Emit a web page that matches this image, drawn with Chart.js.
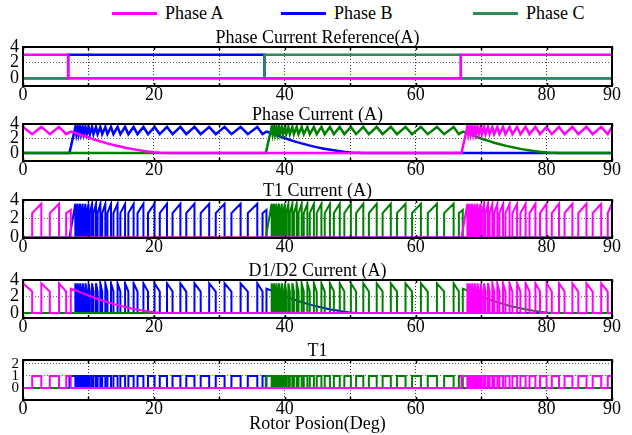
<!DOCTYPE html>
<html>
<head>
<meta charset="utf-8">
<script src="https://cdn.jsdelivr.net/npm/chart.js@4.4.1/dist/chart.umd.min.js"></script>
<style>
  body { margin: 0; background: #fff; }
  #wrap { position: relative; width: 632px; height: 435px; font-family: "Liberation Serif", "DejaVu Serif", serif; }
  .plot { position: absolute; left: 0; width: 632px; }
  .key { position: absolute; top: 4px; height: 18px; line-height: 18px; font-size: 18px; color: #000; white-space: nowrap; }
  .key i { position: absolute; left: 0; top: 8px; width: 45px; height: 3px; }
  .key span { margin-left: 53px; }
</style>
</head>
<body>
<div id="wrap">
  <div class="key" style="left:112px"><i style="background:#ff00ff"></i><span>Phase A</span></div>
  <div class="key" style="left:281px"><i style="background:#0000ff"></i><span>Phase B</span></div>
  <div class="key" style="left:473px"><i style="background:#2e8b57"></i><span>Phase C</span></div>

  <div class="plot" style="top:28px;height:80px"><canvas id="refPlot"></canvas></div>
  <div class="plot" style="top:105px;height:78px"><canvas id="curPlot"></canvas></div>
  <div class="plot" style="top:181px;height:79px"><canvas id="t1Plot"></canvas></div>
  <div class="plot" style="top:261px;height:79px"><canvas id="dPlot"></canvas></div>
  <div class="plot" style="top:341px;height:94px"><canvas id="gatePlot"></canvas></div>
</div>

<script>
var PINK = '#ff00ff', BLUE = '#0000ff', GREEN = '#008000', SEA = '#2e8b57';
var SERIF = '"Liberation Serif", "DejaVu Serif", serif';

// phase current reference, [deg, A]
var refA = [[0,3],[6.9,3],[6.9,0],[66.9,0],[66.9,3],[90,3]];
var refB = [[0,0],[6.9,0],[6.9,3],[36.9,3],[36.9,0],[90,0]];
var refC = [[0,0],[36.9,0],[36.9,3],[66.9,3],[66.9,0],[90,0]];

// hysteresis band of the chopped current
var chopHi = 3.6, chopLo = 2.6;

// chopping instants (deg), alternately at chopHi and chopLo
var aChop1 = [0, 1.4, 2.8, 4.1, 5.5, 6.6];
var aTail1 = [[7.3,2.95],[8,2.78],[9,2.45],[10,2.12],[11,1.82],[12,1.55],[13,1.3],[14,1.07],[15,0.86],
              [16,0.67],[17,0.5],[18,0.35],[19,0.22],[20,0.11],[21,0.04],[22,0],[67.0,0]];
var aChop2 = [67.9,68.05,68.25,68.4,68.62,68.78,69.02,69.19,69.45,69.63,69.92,70.12,70.45,70.67,71.05,71.3,
              71.72,72.0,72.48,72.8,73.35,73.72,74.35,74.78,75.5,76.0,76.8,77.4,78.3,79.0,80.0,80.8,81.9,
              82.75,83.95,84.85,86.1,87.05,88.35,89.35,90];

var bPre = [[0,0],[7.1,0]];
var bChop = [8.0,8.15,8.35,8.5,8.72,8.88,9.12,9.29,9.55,9.73,10.02,10.22,10.55,10.77,11.15,11.4,11.82,12.1,
             12.58,12.9,13.45,13.82,14.45,14.88,15.6,16.1,16.9,17.5,18.4,19.1,20.1,20.9,22.0,22.85,24.05,
             24.95,26.2,27.15,28.45,29.45,30.8,31.85,33.25,34.35,35.8,36.6];
var bTail = [[37.2,2.95],[38,2.72],[39,2.38],[40,2.05],[41,1.75],[42,1.47],[43,1.22],[44,0.99],[45,0.78],
             [46,0.6],[47,0.44],[48,0.3],[49,0.17],[50,0.07],[51,0.02],[52,0],[90,0]];

var cPre = [[0,0],[37.1,0]];
var cChop = [38.0,38.15,38.35,38.5,38.72,38.88,39.12,39.29,39.55,39.73,40.02,40.22,40.55,40.77,41.15,41.4,
             41.82,42.1,42.58,42.9,43.45,43.82,44.45,44.88,45.6,46.1,46.9,47.5,48.4,49.1,50.1,50.9,52.0,
             52.85,54.05,54.95,56.2,57.15,58.45,59.45,60.8,61.85,63.25,64.35,65.8,66.6];
var cTail = [[67.2,2.95],[68,2.7],[69,2.35],[70,2.0],[71,1.7],[72,1.42],[73,1.18],[74,0.95],[75,0.75],
             [76,0.57],[77,0.42],[78,0.28],[79,0.16],[80,0.07],[81,0.02],[82,0],[90,0]];

var xLabels = [0, 20, 40, 60, 80, 90];

function chop(angles) {
  return angles.map(function (x, i) { return [x, i % 2 ? chopLo : chopHi]; });
}

var phaseA = chop(aChop1).concat(aTail1, chop(aChop2));
var phaseB = bPre.concat(chop(bChop), bTail);
var phaseC = cPre.concat(chop(cChop), cTail);

// rising parts of the phase current -> T1 conducts, falling parts -> diodes
function pulses(v, rising, level) {
  var out = [[0, 0]], i = 0;
  function dir(k) {
    return rising ? v[k + 1][1] > v[k][1] : v[k + 1][1] < v[k][1];
  }
  while (i < v.length - 1) {
    if (dir(i)) {
      var j = i;
      while (j < v.length - 1 && dir(j)) j++;
      out.push([v[i][0], 0]);
      for (var k = i; k <= j; k++) out.push([v[k][0], level === undefined ? v[k][1] : level]);
      out.push([v[j][0], 0]);
      i = j;
    } else {
      i++;
    }
  }
  out.push([90, 0]);
  return out;
}

function pts(v) {
  return v.map(function (p) { return {x: p[0], y: p[1]}; });
}

var framePlugin = {
  id: 'frame',
  afterDatasetsDraw: function (chart) {
    var a = chart.chartArea, c = chart.ctx, xs = chart.scales.x;
    c.save();
    c.strokeStyle = '#000';
    c.lineWidth = 2;
    c.strokeRect(a.left, a.top, a.right - a.left, a.bottom - a.top);
    // short inward tick marks every 10 deg
    c.lineWidth = 1.5;
    c.beginPath();
    xs.ticks.forEach(function (t) {
      var px = Math.round(xs.getPixelForValue(t.value)) + 0.5;
      c.moveTo(px, a.top); c.lineTo(px, a.top + 3);
      c.moveTo(px, a.bottom); c.lineTo(px, a.bottom - 3);
    });
    c.stroke();
    c.restore();
  }
};

function makePlot(id, title, yMin, yMax, yTicks, sets, xTitle) {
  var ctx = document.getElementById(id).getContext('2d');
  return new Chart(ctx, {
    type: 'line',
    data: {
      datasets: sets.map(function (s) {
        return {label: s[0], data: pts(s[1]), borderColor: s[2], borderWidth: s[3],
                pointRadius: 0, tension: 0, fill: false};
      })
    },
    options: {
      animation: false,
      responsive: true,
      maintainAspectRatio: false,
      layout: {padding: {top: 1, left: 0, right: 20, bottom: 0}},
      plugins: {
        legend: {display: false},
        tooltip: {enabled: false},
        title: {display: true, text: title, color: '#000', fullSize: false, padding: 0,
                font: {family: SERIF, size: 18, weight: 'normal', lineHeight: 1}}
      },
      scales: {
        x: {
          type: 'linear', min: 0, max: 90,
          afterFit: function (s) { s.height = xTitle ? 35 : 22; },
          border: {display: false, dash: [1, 2]},
          grid: {color: '#333', lineWidth: 1, drawTicks: false},
          ticks: {stepSize: 10, autoSkip: false, maxRotation: 0, padding: 0, color: '#000',
                  font: {family: SERIF, size: 18, lineHeight: 1},
                  callback: function (v) { return xLabels.indexOf(v) >= 0 ? v : ''; }},
          title: xTitle ? {display: true, text: xTitle, color: '#000', padding: {top: 0, bottom: 2},
                           font: {family: SERIF, size: 18, lineHeight: 1}} : {display: false}
        },
        y: {
          min: yMin, max: yMax,
          afterFit: function (s) { s.width = 23; },
          afterBuildTicks: function (s) { s.ticks = yTicks.map(function (v) { return {value: v}; }); },
          border: {display: false, dash: [1, 2]},
          grid: {color: '#666', lineWidth: 1, drawTicks: false},
          ticks: {autoSkip: false, padding: 4, color: '#000',
                  font: {family: SERIF, size: yTicks[2] === 2 && yTicks[1] === 1 ? 15 : 18, lineHeight: 1},
                  callback: function (v) { return String(v); }}
        }
      }
    },
    plugins: [framePlugin]
  });
}

makePlot('refPlot', 'Phase Current Reference(A)', -1, 4, [0, 2, 4], [
  ['Phase A', refA, PINK, 2.5],
  ['Phase C', refC, SEA, 2.5],
  ['Phase B', refB, BLUE, 2.5]
]);

makePlot('curPlot', 'Phase Current (A)', -1.1, 4, [0, 2, 4], [
  ['Phase A', phaseA, PINK, 2.5],
  ['Phase C', phaseC, GREEN, 2.5],
  ['Phase B', phaseB, BLUE, 2.5]
]);

makePlot('t1Plot', 'T1 Current (A)', -0.05, 4, [0, 2, 4], [
  ['Phase A', pulses(phaseA, true), PINK, 2],
  ['Phase C', pulses(phaseC, true), GREEN, 2],
  ['Phase B', pulses(phaseB, true), BLUE, 2]
]);

makePlot('dPlot', 'D1/D2 Current (A)', -0.6, 4, [0, 2, 4], [
  ['Phase A', pulses(phaseA, false), PINK, 2],
  ['Phase C', pulses(phaseC, false), GREEN, 2],
  ['Phase B', pulses(phaseB, false), BLUE, 2]
]);

makePlot('gatePlot', 'T1', -1, 2.33, [0, 1, 2], [
  ['Phase A', pulses(phaseA, true, 1), PINK, 2],
  ['Phase C', pulses(phaseC, true, 1), GREEN, 2],
  ['Phase B', pulses(phaseB, true, 1), BLUE, 2]
], 'Rotor Posion(Deg)');
</script>
</body>
</html>
